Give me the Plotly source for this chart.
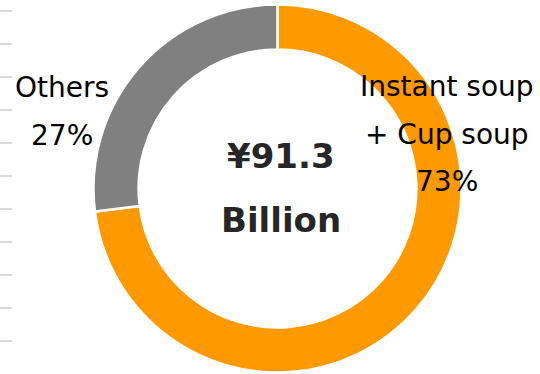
import plotly.graph_objects as go

# Market breakdown
categories = ["Instant soup\n+ Cup soup", "Others"]
shares = [73, 27]
colors = ["#FF9900", "#808080"]
market_total = 91.3  # ¥ billion

W, H = 540, 374

fig = go.Figure()

# Empty cartesian trace so the left axis (faint tick marks) is drawn
fig.add_trace(go.Scatter(x=[None], y=[None], mode="markers",
                         hoverinfo="skip", showlegend=False))

# Donut: first slice starts at 12 o'clock and runs clockwise
cx, cy, r = 277.5, 188.5, 184.0
fig.add_trace(go.Pie(
    labels=[c.replace("\n", " ") for c in categories],
    values=shares,
    sort=False,
    direction="clockwise",
    rotation=0,
    hole=0.755,
    marker=dict(colors=colors, line=dict(color="white", width=2.5)),
    textinfo="none",
    hoverinfo="label+percent",
    showlegend=False,
    domain=dict(x=[(cx - r) / W, (cx + r) / W],
                y=[(H - cy - r) / H, (H - cy + r) / H]),
))

# Slice labels, one annotation per line
label_font = dict(family="DejaVu Sans", size=28, color="#000000")
line_step = 48
label_anchor = {
    "Others": (62, 87),
    "Instant soup\n+ Cup soup": (447, 86),
}
for name, pct in zip(categories, shares):
    lines = name.split("\n") + [f"{pct}%"]
    x0, y0 = label_anchor[name]
    for i, txt in enumerate(lines):
        fig.add_annotation(
            x=x0 / W, y=1 - (y0 + i * line_step) / H,
            xref="paper", yref="paper",
            text=txt, showarrow=False,
            xanchor="center", yanchor="middle",
            font=label_font,
        )

# Total in the hole
center_font = dict(family="DejaVu Sans", size=34, color="#262626")
center_lines = [f"<b>¥{market_total:.1f}</b>", "<b>Billion</b>"]
for i, txt in enumerate(center_lines):
    fig.add_annotation(
        x=281 / W, y=1 - (156 + i * 64) / H,
        xref="paper", yref="paper",
        text=txt, showarrow=False,
        xanchor="center", yanchor="middle",
        font=center_font,
    )

# Faint tick marks along the left edge
fig.update_layout(
    width=W, height=H,
    margin=dict(l=0, r=0, t=0, b=0),
    paper_bgcolor="white",
    plot_bgcolor="white",
    xaxis=dict(visible=False, range=[0, 1], fixedrange=True),
    yaxis=dict(
        range=[-1, H / 33 - 1],
        dtick=1, tick0=0,
        ticks="inside", ticklen=12, tickwidth=1.5, tickcolor="#d9d9d9",
        showticklabels=False, showgrid=False, zeroline=False, showline=False,
        fixedrange=True,
    ),
)

fig.write_html("out.html")
